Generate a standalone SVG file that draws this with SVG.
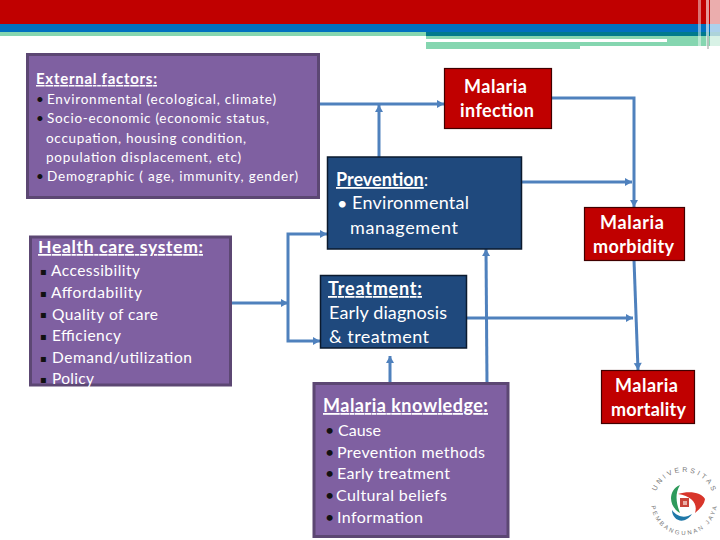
<svg xmlns="http://www.w3.org/2000/svg" width="720" height="540" viewBox="0 0 720 540">
<style>
text{font-family:"Lato","Open Sans","Liberation Sans",sans-serif;fill:#fff}
.purple{fill:#7f60a1;stroke:#5c4773;stroke-width:3}
.blue{fill:#1f497d;stroke:#0b1a2e;stroke-width:1.5}
.red{fill:#c00000;stroke:#400000;stroke-width:1.2}
.title{font-weight:700;text-decoration:underline}
.red-t{font-weight:700;font-size:18px}
.bul{fill:#111}
.sq{fill:#111;font-family:"DejaVu Sans",sans-serif;font-size:10px}
.c{fill:none;stroke:#4f81bd;stroke-width:3}
.logo{fill:#777;font-family:"Liberation Sans",sans-serif}
</style>
<defs>
<marker id="arr" markerUnits="userSpaceOnUse" markerWidth="10" markerHeight="10" refX="8" refY="5" orient="auto"><path d="M1 1L8 5L1 9Z" fill="#4f81bd"/></marker>
</defs>
<g id="header">
<rect x="0" y="0" width="720" height="24" fill="#c00000"/>
<rect x="0" y="24" width="720" height="8" fill="#0070c0"/>
<rect x="0" y="32" width="426" height="4" fill="#85d6b0"/>
<rect x="426" y="32" width="294" height="4" fill="#007a8c"/>
<rect x="426" y="36" width="294" height="3" fill="#85d6b0"/>
<rect x="667" y="39" width="53" height="7" fill="#85d6b0"/>
<rect x="426" y="42" width="241" height="4" fill="#85d6b0"/>
<rect x="426" y="46" width="154" height="3" fill="#85d6b0"/>
<rect x="698" y="0" width="3" height="46" fill="#fff" opacity="0.45"/>
<rect x="706" y="0" width="3" height="46" fill="#fff" opacity="0.6"/>
<rect x="710" y="0" width="10" height="46" fill="#fff" opacity="0.68"/>
<rect x="707" y="36" width="2" height="13" fill="#999" opacity="0.5"/>
</g>
<g id="connectors">
<path class="c" d="M319 104H444" marker-end="url(#arr)"/>
<path class="c" d="M379 157V105" marker-end="url(#arr)"/>
<path class="c" d="M232 303H288" marker-end="url(#arr)"/>
<path class="c" d="M288 303V234H327" marker-end="url(#arr)"/>
<path class="c" d="M288 303V341H320" marker-end="url(#arr)"/>
<path class="c" d="M390 383V356" marker-end="url(#arr)"/>
<path class="c" d="M487 383L486 249" marker-end="url(#arr)"/>
<path class="c" d="M467 318H633" marker-end="url(#arr)"/>
<path class="c" d="M522 182H632" marker-end="url(#arr)"/>
<path class="c" d="M551 98H634V207" marker-end="url(#arr)"/>
<path class="c" d="M634 260L638 370" marker-end="url(#arr)"/>
</g>
<g id="external-factors">
<rect class="purple" x="27.500" y="54.500" width="291" height="143"/>
<text class="title" x="36" y="84" font-size="15" textLength="121">External factors:</text>
<g font-size="13.500">
<text class="bul" x="36" y="104">•</text><text x="47" y="104" textLength="229">Environmental (ecological, climate)</text>
<text class="bul" x="36" y="123">•</text><text x="47" y="123" textLength="222">Socio-economic (economic status,</text>
<text x="46" y="143" textLength="200">occupation, housing condition,</text>
<text x="46" y="162" textLength="195">population displacement, etc)</text>
<text class="bul" x="36" y="181">•</text><text x="47" y="181" textLength="251">Demographic ( age, immunity, gender)</text>
</g>
</g>
<g id="health-care-system">
<rect class="purple" x="30.500" y="237" width="200" height="148"/>
<text class="title" x="38" y="253" font-size="17.500" textLength="165">Health care system:</text>
<g font-size="15.500">
<text class="sq" x="40" y="275">▪</text><text x="51" y="276" textLength="89">Accessibility</text>
<text class="sq" x="40" y="297">▪</text><text x="51" y="298" textLength="91">Affordability</text>
<text class="sq" x="40" y="318">▪</text><text x="52" y="320" textLength="106">Quality of care</text>
<text class="sq" x="40" y="340">▪</text><text x="52" y="341" textLength="69">Efficiency</text>
<text class="sq" x="40" y="362">▪</text><text x="52" y="363" textLength="140">Demand/utilization</text>
<text class="sq" x="40" y="383">▪</text><text x="52" y="384" textLength="42">Policy</text>
</g>
</g>
<g id="malaria-infection">
<rect class="red" x="444.500" y="68.500" width="107" height="60"/>
<text class="red-t" x="464" y="93" textLength="63">Malaria</text>
<text class="red-t" x="460" y="117" textLength="74">infection</text>
</g>
<g id="prevention">
<rect class="blue" x="327.500" y="157" width="194" height="92"/>
<text x="336" y="186" font-size="18"><tspan class="title">Prevention</tspan>:</text>
<text x="337" y="210" font-size="18">•</text>
<text x="352" y="209" font-size="18" textLength="117">Environmental</text>
<text x="350" y="234" font-size="18" textLength="108">management</text>
</g>
<g id="treatment">
<rect class="blue" x="320.500" y="275.500" width="146" height="72.500"/>
<text class="title" x="328" y="295" font-size="18" textLength="94">Treatment:</text>
<text x="329" y="319" font-size="18" textLength="118">Early diagnosis</text>
<text x="329" y="343" font-size="18" textLength="100">&amp; treatment</text>
</g>
<g id="malaria-knowledge">
<rect class="purple" x="314" y="383.500" width="194" height="153"/>
<text class="title" x="323" y="412" font-size="18" textLength="165">Malaria knowledge:</text>
<g font-size="16">
<text class="bul" x="325" y="436">•</text><text x="338" y="436" textLength="43">Cause</text>
<text class="bul" x="325" y="458">•</text><text x="337" y="458" textLength="148">Prevention methods</text>
<text class="bul" x="325" y="479">•</text><text x="337" y="479" textLength="113">Early treatment</text>
<text class="bul" x="325" y="501">•</text><text x="336" y="501" textLength="111">Cultural beliefs</text>
<text class="bul" x="325" y="523">•</text><text x="337" y="523" textLength="86">Information</text>
</g>
</g>
<g id="malaria-morbidity">
<rect class="red" x="584.500" y="207.500" width="100" height="53"/>
<text class="red-t" x="600" y="229" textLength="64">Malaria</text>
<text class="red-t" x="593" y="253" textLength="81">morbidity</text>
</g>
<g id="malaria-mortality">
<rect class="red" x="601.500" y="370.500" width="93" height="53"/>
<text class="red-t" x="615" y="392" textLength="63">Malaria</text>
<text class="red-t" x="611" y="416" textLength="75">mortality</text>
</g>
<g id="logo">
<defs>
<path id="lt" d="M654 502A30 30 0 0 1 714 502"/>
<path id="lb" d="M651 502A33 33 0 0 0 717 502"/>
</defs>
<text class="logo" font-size="7"><textPath href="#lt" startOffset="11" textLength="72">UNIVERSITAS</textPath></text>
<text class="logo" font-size="6"><textPath href="#lb" startOffset="4" textLength="95">PEMBANGUNAN JAYA</textPath></text>
<path d="M680 485C668 490 668 506 680 513C677 505 674 495 680 485Z" fill="#2e9a5b"/>
<path d="M678 494C690 490 702 493 705 499C704 506 698 510 695 513C698 504 692 496 678 494Z" fill="#d8352a"/>
<path d="M672 510C672 520 684 526 692 514C686 518 678 518 672 510Z" fill="#1f78a8"/>
<rect x="680" y="498" width="9" height="9" fill="#c9453a"/>
<rect x="683" y="501" width="4" height="4" fill="#e9b0a8"/>
</g>
</svg>
